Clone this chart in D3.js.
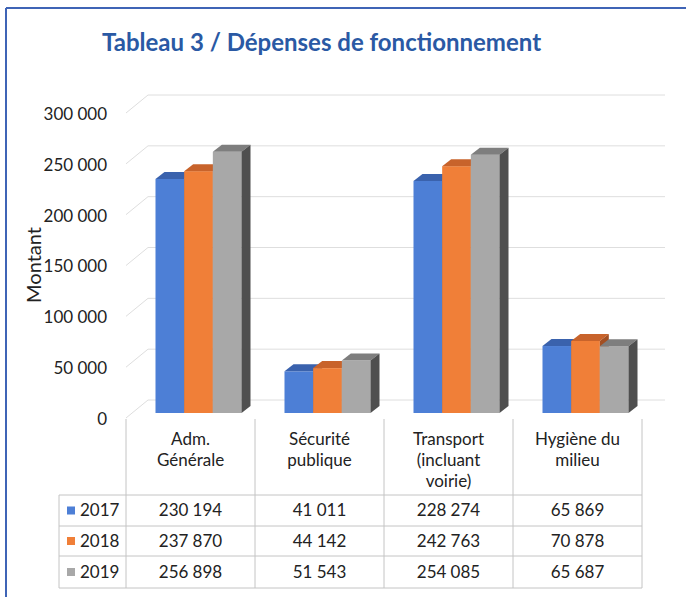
<!doctype html>
<html lang="fr">
<head>
    <meta charset="utf-8">
    <title>Tableau 3 / Dépenses de fonctionnement</title>
    <script src="https://cdnjs.cloudflare.com/ajax/libs/d3/7.8.5/d3.min.js"></script>
    <style>
        body {
            margin: 0;
            background: #ffffff;
            font-family: 'Lato', sans-serif;
        }
        svg text {
            fill: #222222;
        }
    </style>
</head>
<body>
    <svg id="chart" width="686" height="597"></svg>
    <script>
        // data
        const categories = ["Adm. Générale", "Sécurité publique", "Transport (incluant voirie)", "Hygiène du milieu"];
        const categoryLines = [["Adm.", "Générale"], ["Sécurité", "publique"], ["Transport", "(incluant", "voirie)"], ["Hygiène du", "milieu"]];
        const years = ["2017", "2018", "2019"];
        const values2017 = [230194, 41011, 228274, 65869];
        const values2018 = [237870, 44142, 242763, 70878];
        const values2019 = [256898, 51543, 254085, 65687];
        const yTicks = [0, 50000, 100000, 150000, 200000, 250000, 300000];

        const series = [values2017, values2018, values2019];
        const colors = {
            front: ["#4d7fd6", "#f07f38", "#a8a8a8"],
            top:   ["#3a62ad", "#c8632b", "#7e7e7e"],
            side:  ["#2d4c86", "#a34f22", "#4f4f4f"]
        };

        const svg = d3.select("#chart");
        const fmt = v => d3.format(",")(v).replace(/,/g, "\u202f");

        // frame of the scanned figure
        svg.append("line").attr("x1", 6).attr("x2", 686).attr("y1", 8).attr("y2", 8)
            .attr("stroke", "#3f64b6").attr("stroke-width", 2);
        svg.append("line").attr("x1", 6).attr("x2", 6).attr("y1", 8).attr("y2", 597)
            .attr("stroke", "#3f64b6").attr("stroke-width", 2);

        // title
        svg.append("text")
            .attr("x", 102).attr("y", 51)
            .attr("font-size", 24).attr("font-weight", 700)
            .style("fill", "#2a59a4")
            .text("Tableau 3 / Dépenses de fonctionnement");

        // scales
        const x = d3.scaleBand().domain(categories).range([126, 642]);
        const xs = d3.scaleBand().domain(years).range([29.5, 115.5]);
        const y = d3.scaleLinear().domain([0, 300000]).range([413, 108]);
        const depth = {dx: 9, dy: -7};
        const wall = {x0: 126, x1: 148, x2: 665, front: 5, back: -13};

        // back wall gridlines + side wall diagonals
        const grid = svg.append("g").attr("stroke", "#dedede").attr("stroke-width", 1).attr("fill", "none");
        yTicks.forEach(t => {
            grid.append("polyline")
                .attr("points", [[wall.x0, y(t) + wall.front], [wall.x1, y(t) + wall.back], [wall.x2, y(t) + wall.back]].join(" "));
        });

        // y tick labels
        svg.append("g").selectAll("text")
            .data(yTicks)
            .join("text")
            .attr("x", 107)
            .attr("y", d => y(d) + 6)
            .attr("dy", "0.35em")
            .attr("text-anchor", "end")
            .attr("font-size", 17)
            .text(d => fmt(d));

        svg.append("text")
            .attr("transform", "translate(41,265) rotate(-90)")
            .attr("text-anchor", "middle")
            .attr("font-size", 20)
            .text("Montant");

        // 3D bars
        const bars = svg.append("g");
        categories.forEach((c, ci) => {
            years.forEach((yr, si) => {
                const v = series[si][ci];
                const x0 = x(c) + xs(yr);
                const x1 = x0 + xs.bandwidth();
                const yt = y(v);
                const yb = y(0);
                bars.append("rect")
                    .attr("x", x0).attr("y", yt)
                    .attr("width", x1 - x0).attr("height", yb - yt)
                    .attr("fill", colors.front[si]);
                bars.append("polygon")
                    .attr("points", [[x0, yt], [x0 + depth.dx, yt + depth.dy], [x1 + depth.dx, yt + depth.dy], [x1, yt]].join(" "))
                    .attr("fill", colors.top[si]);
                bars.append("polygon")
                    .attr("points", [[x1, yt], [x1 + depth.dx, yt + depth.dy], [x1 + depth.dx, yb + depth.dy], [x1, yb]].join(" "))
                    .attr("fill", colors.side[si]);
            });
        });

        // data table
        const rowY = [495, 526, 556, 588];
        const table = svg.append("g").attr("stroke", "#c4c4c4").attr("stroke-width", 1);
        x.domain().concat([null]).forEach(c => {
            const xx = c === null ? x.range()[1] : x(c);
            table.append("line").attr("x1", xx).attr("x2", xx).attr("y1", 419).attr("y2", rowY[3]);
        });
        table.append("line").attr("x1", 59).attr("x2", 59).attr("y1", rowY[0]).attr("y2", rowY[3]);
        rowY.forEach(ry => {
            table.append("line").attr("x1", 59).attr("x2", 642).attr("y1", ry).attr("y2", ry);
        });

        categories.forEach((c, ci) => {
            const cx = x(c) + x.bandwidth() / 2;
            categoryLines[ci].forEach((line, li) => {
                svg.append("text")
                    .attr("x", cx).attr("y", 439 + li * 21)
                    .attr("dy", "0.35em")
                    .attr("text-anchor", "middle")
                    .attr("font-size", 17)
                    .text(line);
            });
        });

        years.forEach((yr, si) => {
            const cy = (rowY[si] + rowY[si + 1]) / 2;
            svg.append("rect")
                .attr("x", 67).attr("y", cy - 4)
                .attr("width", 8).attr("height", 8)
                .attr("fill", colors.front[si]);
            svg.append("text")
                .attr("x", 80).attr("y", cy)
                .attr("dy", "0.35em")
                .attr("font-size", 17)
                .text(yr);
            categories.forEach((c, ci) => {
                svg.append("text")
                    .attr("x", x(c) + x.bandwidth() / 2).attr("y", cy)
                    .attr("dy", "0.35em")
                    .attr("text-anchor", "middle")
                    .attr("font-size", 17)
                    .text(fmt(series[si][ci]));
            });
        });
    </script>
</body>
</html>
